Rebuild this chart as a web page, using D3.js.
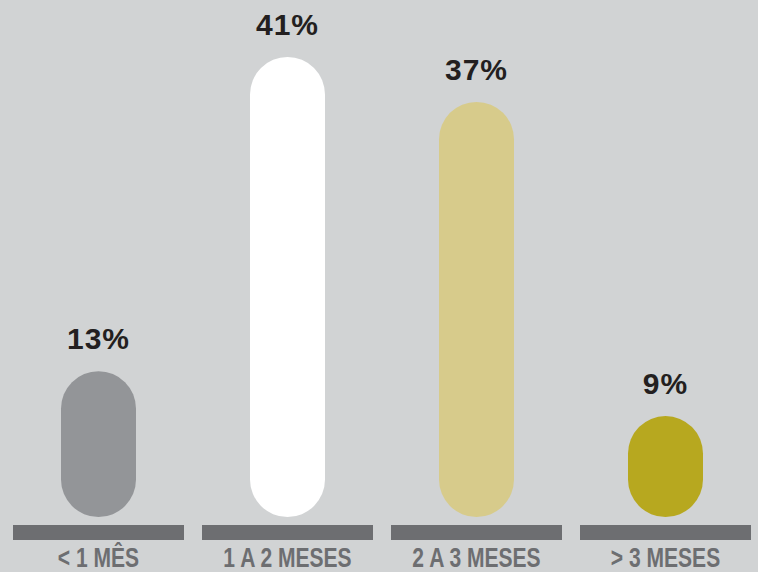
<!DOCTYPE html>
<html>
<head>
<meta charset="utf-8">
<script src="https://cdn.jsdelivr.net/npm/d3@7"></script>
<style>
  html, body { margin: 0; padding: 0; background: #d1d3d4; }
  svg { display: block; }
</style>
</head>
<body>
<svg id="chart" width="758" height="572"></svg>
<script>
// Share of respondents by time range
const categories = ["< 1 MÊS", "1 A 2 MESES", "2 A 3 MESES", "> 3 MESES"];
const values = [13, 41, 37, 9];
const valueLabels = ["13%", "41%", "37%", "9%"];
const colors = ["#939598", "#ffffff", "#d7cb8b", "#b7a81f"];

const W = 758, H = 572;
const svg = d3.select("#chart");

svg.append("rect").attr("width", W).attr("height", H).attr("fill", "#d1d3d4");

// Band scale across the category strips
const x = d3.scaleBand()
  .domain(categories)
  .range([13, 751])
  .paddingInner(18 / 189)
  .paddingOuter(0);

// Value scale, baseline at the pill bottom
const y = d3.scaleLinear().domain([0, 41]).range([517, 57]);

const pillW = 75;
const cx = d => x(d) + x.bandwidth() / 2;

const g = svg.append("g");

// Base strips
g.selectAll("rect.strip")
  .data(categories)
  .join("rect")
  .attr("class", "strip")
  .attr("x", d => x(d))
  .attr("y", 525)
  .attr("width", x.bandwidth())
  .attr("height", 15)
  .attr("fill", "#6d6e71");

// Rounded pill bars
g.selectAll("rect.pill")
  .data(values)
  .join("rect")
  .attr("class", "pill")
  .attr("x", (d, i) => cx(categories[i]) - pillW / 2)
  .attr("y", d => y(d))
  .attr("width", pillW)
  .attr("height", d => y(0) - y(d))
  .attr("rx", pillW / 2)
  .attr("ry", pillW / 2)
  .attr("fill", (d, i) => colors[i]);

// Value labels above pills
g.selectAll("text.val")
  .data(values)
  .join("text")
  .attr("class", "val")
  .attr("x", (d, i) => cx(categories[i]))
  .attr("y", d => y(d) - 22)
  .attr("text-anchor", "middle")
  .attr("font-family", "'Liberation Sans', Arial, Helvetica, sans-serif")
  .attr("font-weight", "bold")
  .attr("font-size", 30)
  .attr("letter-spacing", 1)
  .attr("fill", "#231f20")
  .text((d, i) => valueLabels[i]);

// Category labels under strips, horizontally condensed
g.selectAll("text.cat")
  .data(categories)
  .join("text")
  .attr("class", "cat")
  .attr("transform", d => `translate(${cx(d)},567) scale(0.78,1)`)
  .attr("text-anchor", "middle")
  .attr("font-family", "'Liberation Sans', Arial, sans-serif")
  .attr("font-weight", "bold")
  .attr("font-size", 27)
  .attr("fill", "#6d6e71")
  .text(d => d);
</script>
</body>
</html>
